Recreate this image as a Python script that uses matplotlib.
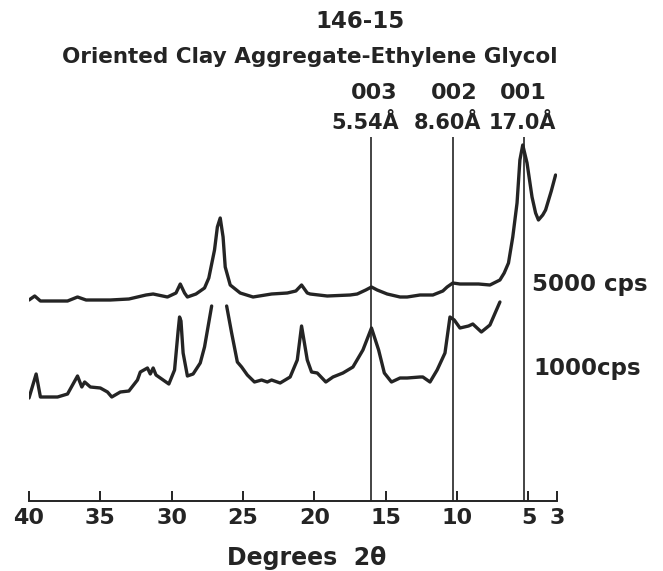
import matplotlib
matplotlib.use("Agg")
import matplotlib.pyplot as plt
import matplotlib.transforms as mtransforms
import numpy as np

# ---------------- data (2-theta in degrees, intensity in arbitrary chart units) -------------
deg_5000 = [40.0, 39.6, 39.2, 38.0, 37.3, 36.6, 36.0, 34.3, 33.0, 31.8, 31.3, 30.3, 29.7,
            29.4, 29.1, 28.9, 28.3, 27.7, 27.4, 27.0, 26.8, 26.6, 26.4, 26.25, 25.9, 25.2,
            24.3, 23.0, 21.9, 21.3, 20.9, 20.5, 20.3, 19.1, 17.5, 17.0, 16.4, 16.0, 15.6,
            14.9, 14.0, 13.5, 12.6, 11.7, 11.0, 10.7, 10.3, 9.8, 9.3, 8.5, 7.7, 7.0, 6.7,
            6.4, 6.1, 5.8, 5.6, 5.4, 5.1, 4.75, 4.5, 4.3, 4.0, 3.8, 3.4, 3.1]
cps_5000 = [201, 205, 200, 200, 200, 204, 201, 201, 202, 206, 207, 204, 208,
            217, 208, 204, 207, 213, 223, 251, 274, 283, 264, 234, 216, 208,
            204, 207, 208, 210, 216, 208, 207, 205, 206, 207, 211, 214, 211,
            207, 204, 204, 206, 206, 210, 214, 218, 217, 217, 217, 216, 221, 228,
            238, 264, 298, 341, 356, 338, 304, 288, 281, 286, 291, 310, 326]

deg_1000_a = [40.0, 39.5, 39.2, 38.0, 37.3, 36.6, 36.3, 36.1, 35.7, 35.0, 34.5, 34.2, 33.6,
              33.0, 32.4, 32.2, 31.7, 31.5, 31.3, 31.1, 30.6, 30.2, 29.8, 29.55, 29.45,
              29.35, 29.2, 28.9, 28.5, 28.0, 27.7, 27.2]
cps_1000_a = [103, 127, 104, 104, 107, 125, 114, 119, 114, 113, 109, 104, 109,
              110, 121, 129, 133, 127, 133, 126, 121, 117, 131, 170, 184,
              180, 148, 125, 127, 138, 154, 195]

deg_1000_b = [26.15, 25.8, 25.4, 25.1, 24.7, 24.2, 23.7, 23.3, 23.0, 22.4, 21.7, 21.2, 20.9,
              20.5, 20.2, 19.8, 19.2, 18.7, 18.0, 17.3, 16.6, 16.0, 15.5, 15.1, 14.6, 14.0,
              13.5, 12.6, 12.4, 11.9, 11.4, 10.85, 10.5, 10.2, 9.8, 9.2, 8.9, 8.3, 7.7, 7.0]
cps_1000_b = [195, 168, 139, 134, 126, 119, 121, 119, 121, 118, 124, 141, 175,
              141, 129, 128, 119, 124, 128, 134, 151, 173, 151, 128, 119, 123,
              123, 124, 124, 119, 131, 148, 184, 181, 173, 175, 177, 169, 176, 199]

peak_2theta = [16.0, 10.3, 5.3]
peak_hkl = ["003", "002", "001"]
peak_d = ["5.54Å", "8.60Å", "17.0Å"]

x_ticks = [40, 35, 30, 25, 20, 15, 10, 5, 3]
x_ticklabels = ["40", "35", "30", "25", "20", "15", "10", "5", "3"]

title_1 = "146-15"
title_2 = "Oriented Clay Aggregate-Ethylene Glycol"
x_label = "Degrees  2θ"
scale_labels = ["5000 cps", "1000cps"]

# ---------------- figure ----------------
W, H = 663, 571
plt.rcParams['font.family'] = ['DejaVu Sans']
fig = plt.figure(figsize=(W / 100, H / 100), dpi=100)
fig.patch.set_facecolor("white")

ink = "#242424"
ax_left, ax_right, ax_bottom, ax_top = 29, 557, 501, 130   # pixel positions
ax = fig.add_axes([ax_left / W, 1 - ax_bottom / H, (ax_right - ax_left) / W,
                   (ax_bottom - ax_top) / H])
ax.set_xlim(40, 3)
ax.set_ylim(0, ax_bottom - ax_top)
ax.set_facecolor("none")

for s in ["top", "left", "right"]:
    ax.spines[s].set_visible(False)
ax.spines["bottom"].set_linewidth(1.4)
ax.spines["bottom"].set_color(ink)
ax.set_yticks([])
ax.set_xticks(x_ticks)
ax.set_xticklabels(x_ticklabels, fontsize=16, fontweight="bold", color=ink)
ax.tick_params(axis="x", direction="in", length=7, width=1.4, color=ink, pad=5)

lw = 2.4
ax.plot(deg_5000, cps_5000, color=ink, lw=lw, solid_joinstyle="round", solid_capstyle="round")
ax.plot(deg_1000_a, cps_1000_a, color=ink, lw=lw, solid_joinstyle="round", solid_capstyle="round")
ax.plot(deg_1000_b, cps_1000_b, color=ink, lw=lw, solid_joinstyle="round", solid_capstyle="round")

ax.vlines(peak_2theta, 0, 364, color=ink, lw=1.2)

# peak labels (x in data, y in pixels from top), small horizontal nudges in pixels
bt = mtransforms.blended_transform_factory(ax.transData, fig.transFigure)
hkl_dx = [3, 1, -1]
d_dx = [-6, -5, -2]
for x, hkl, d, dx1, dx2 in zip(peak_2theta, peak_hkl, peak_d, hkl_dx, d_dx):
    t1 = bt + mtransforms.ScaledTranslation(dx1 / 100, 0, fig.dpi_scale_trans)
    t2 = bt + mtransforms.ScaledTranslation(dx2 / 100, 0, fig.dpi_scale_trans)
    ax.text(x, 1 - 93 / H, hkl, transform=t1, ha="center", va="center",
            fontsize=16, fontweight="bold", color=ink)
    ax.text(x, 1 - 123 / H, d, transform=t2, ha="center", va="center",
            fontsize=15, fontweight="bold", color=ink)

fig.text(360 / W, 1 - 22 / H, title_1, ha="center", va="center",
         fontsize=16.5, fontweight="bold", color=ink)
fig.text(310 / W, 1 - 57 / H, title_2, ha="center", va="center",
         fontsize=15.5, fontweight="bold", color=ink)
fig.text(532 / W, 1 - 285 / H, scale_labels[0], ha="left", va="center",
         fontsize=16.5, fontweight="bold", color=ink)
fig.text(533 / W, 1 - 368 / H, scale_labels[1], ha="left", va="center",
         fontsize=16.5, fontweight="bold", color=ink)
fig.text(307 / W, 1 - 558 / H, x_label, ha="center", va="center",
         fontsize=17, fontweight="bold", color=ink)

fig.savefig("out.png", dpi=100, facecolor="white")
